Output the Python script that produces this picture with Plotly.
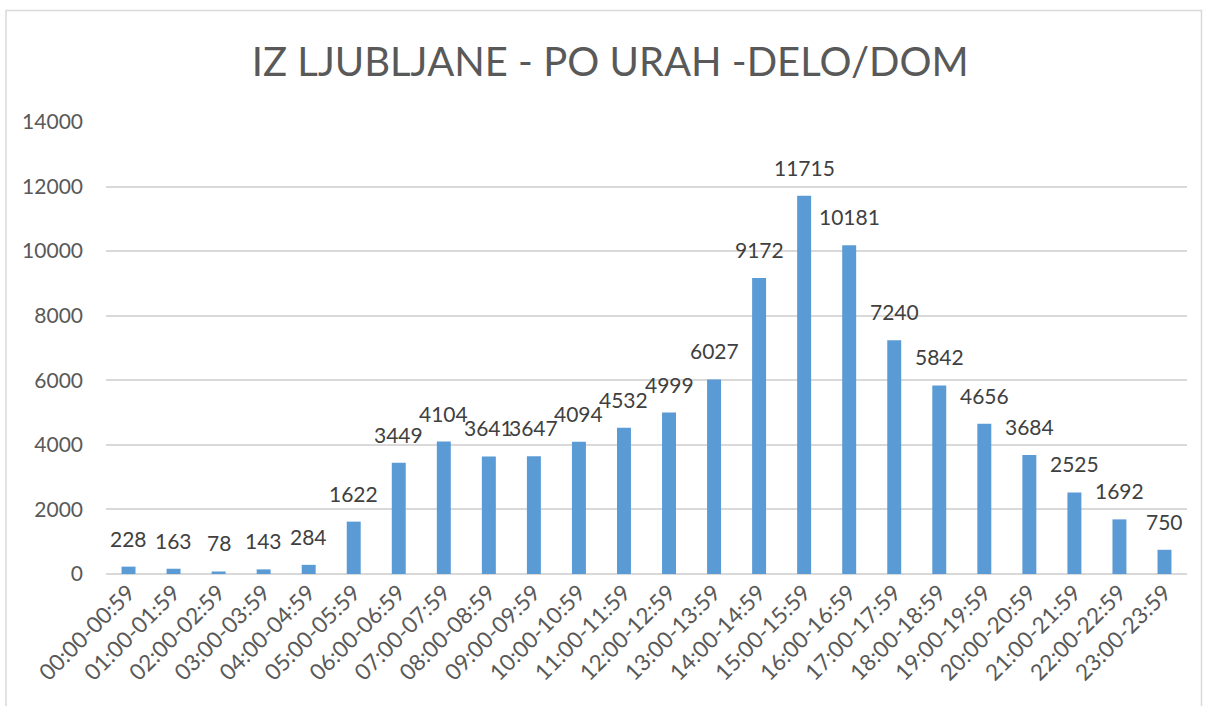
import plotly.graph_objects as go

categories = ["00:00-00:59", "01:00-01:59", "02:00-02:59", "03:00-03:59", "04:00-04:59",
              "05:00-05:59", "06:00-06:59", "07:00-07:59", "08:00-08:59", "09:00-09:59",
              "10:00-10:59", "11:00-11:59", "12:00-12:59", "13:00-13:59", "14:00-14:59",
              "15:00-15:59", "16:00-16:59", "17:00-17:59", "18:00-18:59", "19:00-19:59",
              "20:00-20:59", "21:00-21:59", "22:00-22:59", "23:00-23:59"]
values = [228, 163, 78, 143, 284, 1622, 3449, 4104, 3641, 3647, 4094, 4532, 4999, 6027,
          9172, 11715, 10181, 7240, 5842, 4656, 3684, 2525, 1692, 750]
y_ticks = [0, 2000, 4000, 6000, 8000, 10000, 12000, 14000]
y_tick_labels = [str(v) for v in y_ticks]

FONT = "Lato"
TXT = "#595959"

fig = go.Figure()
fig.add_trace(go.Bar(x=categories, y=values, marker=dict(color="#5B9BD5", line=dict(width=0)),
                     hoverinfo="x+y"))

annotations = [dict(x=c, y=v, text=str(v), showarrow=False, yanchor="bottom", yshift=14,
                    font=dict(family=FONT, size=21, color="#404040"))
               for c, v in zip(categories, values)]

fig.update_layout(
    width=1206, height=706,
    margin=dict(l=106, r=19, t=122, b=132, autoexpand=False),
    paper_bgcolor="white", plot_bgcolor="white",
    bargap=0.69,
    showlegend=False,
    title=dict(text="IZ LJUBLJANE - PO URAH -DELO/DOM", x=0.506, xanchor="center",
               y=0.912, yanchor="middle",
               font=dict(family=FONT, size=40, color=TXT)),
    annotations=annotations,
    xaxis=dict(tickangle=-45, tickfont=dict(family=FONT, size=22.5, color=TXT),
               showgrid=False, showline=False, ticks="", fixedrange=True, automargin=False),
    yaxis=dict(range=[0, 14000], tickvals=y_ticks, ticktext=y_tick_labels,
               showgrid=True, gridcolor="#d9d9d9", automargin=False,
               gridwidth=1.5, zeroline=True, zerolinecolor="#d9d9d9", zerolinewidth=1.5,
               tickfont=dict(family=FONT, size=21, color=TXT), ticklabelstandoff=22),
    shapes=[dict(type="rect", xref="paper", yref="paper", x0=-0.0925, x1=1.0134,
                 y0=-0.32, y1=1.2467, line=dict(color="#d9d9d9", width=1.5),
                 fillcolor="rgba(0,0,0,0)", layer="below")],
)

fig.write_html("out.html", config={"displayModeBar": False},
               post_script="document.body.style.margin='0';document.body.style.overflow='hidden';")
